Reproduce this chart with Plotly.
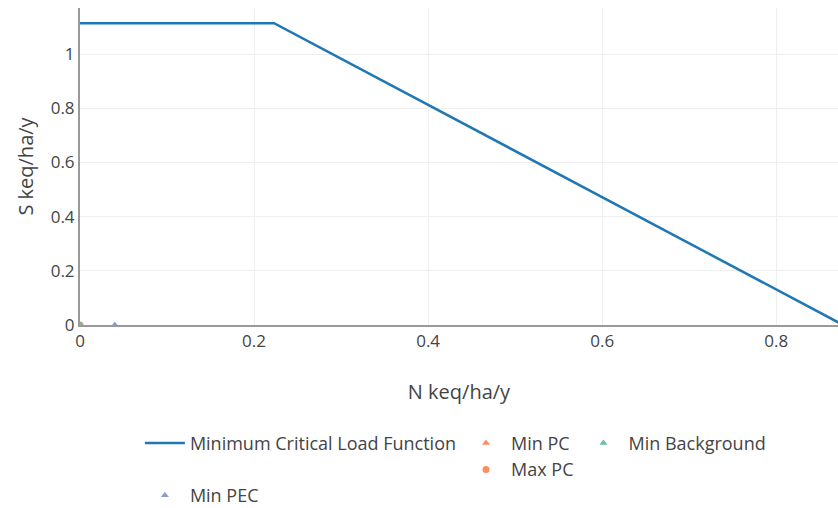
import plotly.graph_objects as go

# Critical load function breakpoints (keq/ha/y)
clf_n = [0, 0.223, 0.877]
clf_s = [1.114, 1.114, 0]

# Deposition points
min_pc_n, min_pc_s = [0], [0]
max_pc_n, max_pc_s = [0], [0]
min_bg_n, min_bg_s = [0], [0]
min_pec_n, min_pec_s = [0.04], [0]

fig = go.Figure()
fig.add_trace(go.Scatter(x=clf_n, y=clf_s, mode="lines", name="Minimum Critical Load Function",
                         line=dict(color="#1f77b4", width=2.5), legendgroup="clf"))
fig.add_trace(go.Scatter(x=min_pc_n, y=min_pc_s, mode="markers", name="Min PC",
                         marker=dict(symbol="triangle-up", color="#fc8d62", size=7), legendgroup="pc"))
fig.add_trace(go.Scatter(x=max_pc_n, y=max_pc_s, mode="markers", name="Max PC",
                         marker=dict(symbol="circle", color="#fc8d62", size=7), legendgroup="pc"))
fig.add_trace(go.Scatter(x=min_bg_n, y=min_bg_s, mode="markers", name="Min Background",
                         marker=dict(symbol="triangle-up", color="#66c2a5", size=7), legendgroup="bg"))
fig.add_trace(go.Scatter(x=min_pec_n, y=min_pec_s, mode="markers", name="Min PEC",
                         marker=dict(symbol="triangle-up", color="#8da0cb", size=7), legendgroup="pec",
                         legend="legend2"))

legend_style = dict(orientation="h", xanchor="left", yanchor="top", traceorder="grouped",
                    tracegroupgap=10, itemwidth=40, font=dict(size=18))

fig.update_layout(
    width=838, height=508,
    margin=dict(l=80, r=0, t=8, b=183, autoexpand=False),
    paper_bgcolor="white", plot_bgcolor="white",
    font=dict(family="Open Sans, Noto Sans, sans-serif", color="#444", size=17),
    legend=dict(x=0.079, y=-0.315, **legend_style),
    legend2=dict(x=0.079, y=-0.48, **legend_style),
    showlegend=True,
)
fig.update_xaxes(range=[0, 0.871], dtick=0.2, showgrid=True, gridcolor="#eee", zeroline=False,
                 showline=True, linecolor="#999", linewidth=2, ticks="",
                 title=dict(text="N keq/ha/y", font=dict(size=20), standoff=34))
fig.update_yaxes(range=[0, 1.17], dtick=0.2, showgrid=True, gridcolor="#eee", zeroline=False,
                 showline=True, linecolor="#999", linewidth=2, ticks="",
                 title=dict(text="S keq/ha/y", font=dict(size=20), standoff=12))

fig.write_html("out.html")
